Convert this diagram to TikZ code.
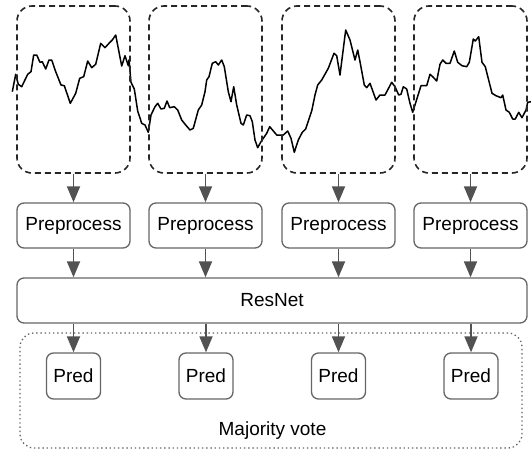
\documentclass[tikz,border=0pt]{standalone}
\usepackage{fontspec}
\setmainfont{Liberation Sans}
\usetikzlibrary{arrows.meta}

\begin{document}
\begin{tikzpicture}[
                x=1pt, y=-1pt,
                >=Stealth,
                font=\fontsize{19}{22}\selectfont,
                win/.style={draw=black!85, dash pattern=on 6pt off 4pt, line width=1.6pt, rounded corners=15pt, minimum width=113pt, minimum height=167pt},
                prep/.style={draw=black!60, line width=1.3pt, rounded corners=7pt, fill=white, minimum width=113pt, minimum height=45pt, inner sep=0pt},
                net/.style={draw=black!60, line width=1.3pt, rounded corners=7pt, fill=white, minimum width=510pt, minimum height=45pt, inner sep=0pt},
                pred/.style={draw=black!60, line width=1.3pt, rounded corners=7pt, fill=white, minimum width=54pt, minimum height=46pt, inner sep=0pt},
                vote/.style={draw=black!60, dash pattern=on 1.4pt off 2.8pt, line width=1.3pt, rounded corners=14pt, minimum width=502pt, minimum height=115pt},
                arr/.style={line width=1.8pt, draw=black!68, -{Triangle[length=16pt, width=13pt]}},
                sig/.style={line width=1.5pt, black, line join=round}
            ]
                \useasboundingbox (0,0) rectangle (531,450);
                % signal
                \draw[sig] plot coordinates {(12.3,91.7) (15.7,74.3) (18.3,84.3) (21.7,86.7) (27.7,74.3) (31,71.7) (33.7,55) (36.7,55) (40,62.3) (42.3,61.7) (45.7,69) (49,60) (51.7,60) (55.7,71.7) (61,85) (64.3,85.7) (70.3,103.3) (75.7,93.3) (79.7,78.3) (83.7,76.7) (87.7,61) (91.7,67.7) (95.7,64.3) (100.7,43.3) (105,47.7) (109,43.3) (112.3,40) (115.7,35) (121.7,66) (125,55.7) (128.3,65.7) (129,60) (131,82.3) (134.3,89) (137.7,111) (141.7,123.3) (145,125) (148.3,132.3) (151,115) (155,106.7) (157.7,103.3) (161,109) (164.3,108.3) (167,101) (169.7,107.7) (174.3,106.7) (177.7,110) (181.7,120) (185.7,125) (190,130) (193.3,128.3) (198.3,110) (201.7,105) (205,91.7) (206.7,80) (209,76.7) (212.3,63.3) (215.7,61.7) (218.3,65) (221.7,60) (224.3,66.7) (228.3,91.7) (231,101.7) (233.7,86.7) (236.7,105) (241,123.3) (243.3,125) (246.7,115) (250,115.7) (252.3,121.7) (255,140) (257.7,147.7) (261,141.7) (263.3,138.3) (266.7,133.3) (269.7,126.7) (276.7,135) (283.3,135) (287.7,131) (291,138.3) (294.3,152.3) (298.3,140) (302.3,132.3) (305.7,129) (311.7,111) (315,95) (317.7,85) (321.7,80) (328.3,68.3) (334,53.3) (336.7,55.7) (340,75) (345.7,30) (350,40) (355,60) (357.7,50) (360,61.7) (364.3,85) (366.7,87.7) (370,83.3) (376,100) (380,95) (385,95) (391.7,82.3) (395,86.7) (398.7,95) (401,94.3) (403.3,86.7) (406.7,89) (410,103.3) (412.7,112.3) (416,101.7) (421,85.7) (426.7,85.7) (430,74.3) (432.7,76.7) (436.7,81) (440,64.3) (442.7,60) (446,63.3) (450,63.3) (454.3,51) (457.7,62.3) (462,65.7) (466.7,66.7) (469.3,62.3) (473.3,39) (475.3,41) (478.7,36.7) (482,62.3) (485.3,66.7) (492,93.3) (496,95.7) (501,97.7) (502.7,95) (506,110) (509.3,112.3) (512.7,119) (515.3,119) (518.7,112.3) (522,117.7) (526,110) (527.7,102.3) (531,101.7)};
                % windows
                \node[win] (win1) at (73.5,89.5) {};
                \node[win] (win2) at (205.5,89.5) {};
                \node[win] (win3) at (338.5,89.5) {};
                \node[win] (win4) at (470.5,89.5) {};
                \node[prep] (pre1) at (73.5,225.5) {Preprocess};
                \node[prep] (pre2) at (205.5,225.5) {Preprocess};
                \node[prep] (pre3) at (338.5,225.5) {Preprocess};
                \node[prep] (pre4) at (470.5,225.5) {Preprocess};
                \node[net] (resnet) at (272,300.5) {ResNet};
                \node[vote] (vote) at (271,390.5) {};
                \node (votelbl) at (272.5,431) {Majority vote};
                \node[pred] (pred1) at (73.5,376) {Pred};
                \node[pred] (pred2) at (206,376) {Pred};
                \node[pred] (pred3) at (338.5,376) {Pred};
                \node[pred] (pred4) at (471,376) {Pred};
                \draw[arr] (win1) -- (pre1);
                \draw[arr] (win2) -- (pre2);
                \draw[arr] (win3) -- (pre3);
                \draw[arr] (win4) -- (pre4);
                \draw[arr] (pre1) -- (pre1 |- resnet.north);
                \draw[arr] (pre2) -- (pre2 |- resnet.north);
                \draw[arr] (pre3) -- (pre3 |- resnet.north);
                \draw[arr] (pre4) -- (pre4 |- resnet.north);
                \draw[arr] (pred1 |- resnet.south) -- (pred1);
                \draw[arr] (pred2 |- resnet.south) -- (pred2);
                \draw[arr] (pred3 |- resnet.south) -- (pred3);
                \draw[arr] (pred4 |- resnet.south) -- (pred4);
            \end{tikzpicture}
\end{document}
